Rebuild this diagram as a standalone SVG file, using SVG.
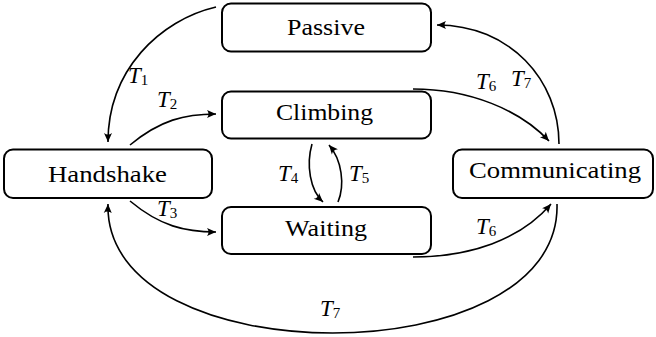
<svg xmlns="http://www.w3.org/2000/svg" width="656" height="337" viewBox="0 0 656 337">
<defs>
<marker id="ah" markerUnits="userSpaceOnUse" markerWidth="12" markerHeight="12" viewBox="-10 -6 12 12" refX="0" refY="0" orient="auto">
<path d="M0,0 L-9,-4 Q-6,0 -9,4 Z" fill="#000"/>
</marker>
</defs>
<style>
.box{fill:#fff;stroke:#000;stroke-width:2}
.lbl{font-family:"Liberation Serif","Times New Roman",serif;font-size:23.5px;fill:#000}
.edge{fill:none;stroke:#000;stroke-width:1.6;marker-end:url(#ah)}
.t{font-family:"Liberation Serif","Times New Roman",serif;font-size:23px;font-style:italic;fill:#000}
.s{font-size:15px;font-style:normal}
</style>
<g id="passive"><rect class="box" x="222" y="3.5" width="209" height="48" rx="9"/><text class="lbl" x="287" y="34.5" textLength="78" lengthAdjust="spacingAndGlyphs">Passive</text></g>
<g id="climbing"><rect class="box" x="222" y="91.5" width="209" height="47" rx="9"/><text class="lbl" x="276" y="119.5" textLength="97" lengthAdjust="spacingAndGlyphs">Climbing</text></g>
<g id="handshake"><rect class="box" x="4" y="149.5" width="208" height="48.5" rx="9"/><text class="lbl" x="48" y="182" textLength="119" lengthAdjust="spacingAndGlyphs">Handshake</text></g>
<g id="waiting"><rect class="box" x="222" y="207" width="209" height="47" rx="9"/><text class="lbl" x="285" y="236" textLength="82" lengthAdjust="spacingAndGlyphs">Waiting</text></g>
<g id="communicating"><rect class="box" x="453" y="149.5" width="200" height="48.5" rx="9"/><text class="lbl" x="469" y="177.5" textLength="172" lengthAdjust="spacingAndGlyphs">Communicating</text></g>
<g id="connectors">
<path class="edge" d="M216,7 C160,20 108,70 108,142"/>
<path class="edge" d="M130,145 C160,120 185,114 216,114"/>
<path class="edge" d="M130,201 C160,226 185,232 216,232"/>
<path class="edge" d="M312,144 C306,165 310,190 323,202"/>
<path class="edge" d="M338,202 C345,185 342,160 329,145"/>
<path class="edge" d="M413,89 C470,89 520,110 549,141"/>
<path class="edge" d="M559,144 C559,80 510,25 437,25"/>
<path class="edge" d="M413,257 C470,257 520,240 551,204"/>
<path class="edge" d="M557,204 C562,376 103,376 108,204"/>
</g>
<g id="labels">
<text class="t" x="128" y="82.5">T<tspan class="s" dy="2">1</tspan></text>
<text class="t" x="157" y="107">T<tspan class="s" dy="2">2</tspan></text>
<text class="t" x="157" y="216">T<tspan class="s" dy="2">3</tspan></text>
<text class="t" x="278" y="181">T<tspan class="s" dy="2">4</tspan></text>
<text class="t" x="349" y="181">T<tspan class="s" dy="2">5</tspan></text>
<text class="t" x="476" y="88.5">T<tspan class="s" dy="2">6</tspan></text>
<text class="t" x="511" y="85.5">T<tspan class="s" dy="2">7</tspan></text>
<text class="t" x="476" y="234">T<tspan class="s" dy="2">6</tspan></text>
<text class="t" x="320" y="316">T<tspan class="s" dy="2">7</tspan></text>
</g>
</svg>
